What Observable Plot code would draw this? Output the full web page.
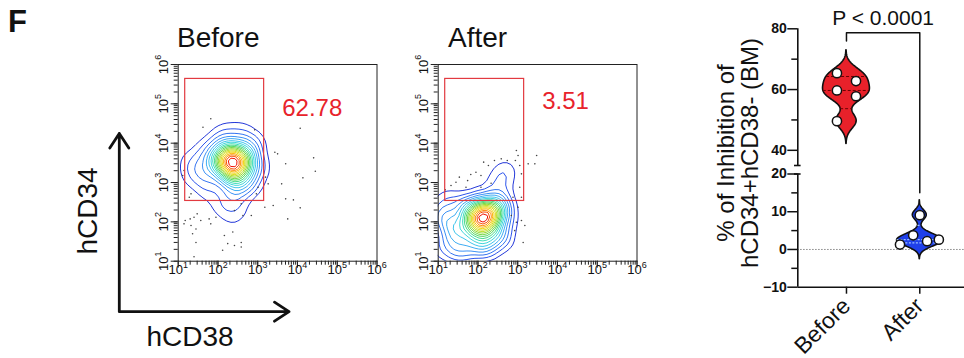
<!DOCTYPE html>
<html><head><meta charset="utf-8">
<script src="https://cdn.jsdelivr.net/npm/d3@7"></script>
<script src="https://cdn.jsdelivr.net/npm/@observablehq/plot@0.6"></script>
<style>
body{margin:0;background:#fff;}
#fig{position:relative;width:964px;height:358px;overflow:hidden;background:#fff;font-family:"Liberation Sans",Arial,Helvetica,sans-serif;}
.abs{position:absolute;}
</style></head><body><div id="fig"></div>
<script>
// ---------- flow cytometry panels ----------
const panelTitles = ["Before", "After"];
const flowTicks = [1e1, 1e2, 1e3, 1e4, 1e5, 1e6];
const flowTickBase = "10";
const flowTickExponents = ["1", "2", "3", "4", "5", "6"];
const gateX = [15, 1450];        // hCD38 bounds of the gate
const gateY = [340, 430000];     // hCD34 bounds of the gate
const gatePercent = ["62.78", "3.51"];
const gateLabelX = [4130, 4130];
const gateLabelY = [50000, 74800];

// contour "events": hCD38, hCD34, weight
const beforeEventX = [236,150,370,236,236,160,360,214,568,690,81,55,37,19,145,385,840,1020,200,230,98,385,21,55,120,300,500,60,260,700];
const beforeEventY = [3290,3290,3290,5200,2100,4400,2600,1500,925,6510,2990,6510,2020,3620,17300,19000,11700,2450,348,120,236,236,1370,627,9000,8000,4500,1000,700,2200];
const beforeEventW = [4,3,3,3,3,4,3.5,4,3,2,3,2,1.6,1.1,1.4,1.2,1,1.3,1.4,0.9,0.7,0.7,1,0.9,1.6,2,2,1.2,2,1.4];
const afterEventX = [131,85,200,131,131,73,236,55,25,14,17,37,145,385,467,385,119,316,515,14,90,200,300,420];
const afterEventY = [131,131,131,200,85,89,194,236,60,131,348,19,23,41,131,348,424,925,2220,23,40,60,250,1400];
const afterEventW = [4,3,3,3,3,4,4,3.5,4,3,1.4,3,3,2.5,2,1.4,1.1,1,0.8,1.5,3,3,2,0.8];

// outlying single events (dots)
const beforeDotX = [66,42,840,11700,2700,3160,5050,25500,28100,13700,1570,1830,4000,5050,7900,2450,1510,925,1020,11700,5680,424,690,260,385,30,25,20,15,14,37,66,21,28,23,28,145,176,260,236,385,385,131,25,14,13,19,21,60,89];
const beforeDotY = [41600,25500,21800,24000,5900,5360,2990,4240,1940,1315,1370,925,925,385,362,260,236,515,760,227,119,145,145,194,287,160,131,119,108,89,108,89,81,66,50,30,45,28,25,55,30,23,19,13,2020,1510,424,515,119,131];
const afterDotX = [15,28,34,55,66,89,119,139,183,260,385,546,925,1020,873,1125,1830,2700,2990,119,214,50,21,1240,1125,760,1240,1020,925,1240,1510,1370,690,840];
const afterDotY = [652,1020,1370,1120,1600,1830,1510,3290,2700,3620,4000,3620,6510,4860,3620,2700,2980,2980,4860,760,961,760,840,1660,760,424,424,236,98,108,81,30,145,60];

// ---------- violin panel ----------
const categories = ["Before", "After"];
const beforeValues = [65.4, 62.8, 59.7, 57.8, 49.6];
const beforeJitter = [-0.13, 0.13, -0.13, 0.13, -0.13];
const afterValues = [9.1, 3.75, 2.2, 2.6, 1.3];
const afterJitter = [0, -0.09, 0.10, 0.26, -0.27];
const beforeQuartiles = [53.7, 59.7, 64.3];
const afterQuartiles = [1.75, 2.6, 6.4];
const yMajorTicks = [80, 60, 40, 20, 10, 0, -10];
const yMinorTicks = [70, 50, 15, 5, -5];
const axisUpper = [35, 80];
const axisLower = [-10, 20];
const pValueText = "P < 0.0001";
const bracketY = [76, 78.7, 15]; // left end, top, right end
const yLabelLines = ["% of Inhibition of", "hCD34+hCD38- (BM)"];

const FONT = '"Liberation Sans", Arial, Helvetica, sans-serif';
const contourColors = ["#1a1ac4","#2a50ea","#3a8cf5","#40c0f2","#40e0d0","#48d870","#80d840","#c8e028","#f5d818","#ff8a10","#f01000"];
const fig = document.getElementById("fig");

// overlay: panel letter, titles, arrows
const ns = "http://www.w3.org/2000/svg";
const over = document.createElementNS(ns, "svg");
over.setAttribute("width", 964); over.setAttribute("height", 358);
over.setAttribute("class", "abs"); over.style.left = "0px"; over.style.top = "0px";
over.innerHTML = `
<g font-family='${FONT}' fill="#111">
<text x="8" y="31.5" font-size="31" font-weight="bold">F</text>
<text x="177" y="46.5" font-size="28">${panelTitles[0]}</text>
<text x="448" y="46.5" font-size="28">${panelTitles[1]}</text>
<text transform="translate(96.5,211) rotate(-90)" text-anchor="middle" font-size="28">hCD34</text>
<text x="190" y="346" text-anchor="middle" font-size="28">hCD38</text>
</g>
<path d="M119.3,311.7 V133.5 M109.8,148 L119.3,133.5 L128.8,148 M119.3,311.7 H289 M274.5,302.2 L289,311.7 L274.5,321.2"
 stroke="#111" stroke-width="2.8" fill="none" stroke-linecap="round" stroke-linejoin="round"/>`;
fig.appendChild(over);

function place(el, left, top) {
  const d = document.createElement("div");
  d.className = "abs"; d.style.left = left + "px"; d.style.top = top + "px";
  d.appendChild(el); fig.appendChild(d);
}

const expOf = d => flowTickExponents[flowTicks.indexOf(d)];

function flowPanel(evX, evY, evW, dX, dY, k) {
  const events = evX.map((x, i) => ({x, y: evY[i], w: evW[i]}));
  const dots = dX.map((x, i) => ({x, y: dY[i]}));
  return Plot.plot({
    width: 250, height: 240,
    marginLeft: 37.7, marginRight: 13.5, marginTop: 14, marginBottom: 29.3,
    x: {type: "log", domain: [10, 1e6], label: null, axis: null},
    y: {type: "log", domain: [10, 1e6], label: null, axis: null},
    color: {type: "linear", range: contourColors},
    style: {fontFamily: FONT, background: "transparent", overflow: "visible", color: "#111"},
    marks: [
      Plot.density(events, {x: "x", y: "y", weight: "w", bandwidth: 7, thresholds: 20, stroke: "density", strokeWidth: 1, clip: true}),
      Plot.dot(dots, {x: "x", y: "y", r: 0.8, fill: "#444", stroke: null}),
      Plot.rect([0], {x1: () => gateX[0], x2: () => gateX[1], y1: () => gateY[0], y2: () => gateY[1], fill: "none", stroke: "#e23a40", strokeWidth: 1.2}),
      Plot.text([gatePercent[k]], {x: () => gateLabelX[k], y: () => gateLabelY[k], text: d => d, fill: "#e8232b", fontSize: 24, textAnchor: "start", lineAnchor: "bottom"}),
      Plot.frame({stroke: "#222", strokeWidth: 1}),
      Plot.axisX({ticks: 50, tickFormat: () => "", tickSize: 4, stroke: "#222"}),
      Plot.axisY({ticks: 50, tickFormat: () => "", tickSize: 4, stroke: "#222"}),
      Plot.axisX({ticks: flowTicks, tickFormat: () => "", tickSize: 7, stroke: "#222"}),
      Plot.axisY({ticks: flowTicks, tickFormat: () => "", tickSize: 7, stroke: "#222"}),
      // x tick labels: 10 with superscript exponent
      Plot.text(flowTicks, {x: d => d, frameAnchor: "bottom", text: () => flowTickBase, dx: -2.5, dy: 12.5, fontSize: 13, fill: "#111"}),
      Plot.text(flowTicks, {x: d => d, frameAnchor: "bottom", text: expOf, dx: 4.8, dy: 7, fontSize: 9, textAnchor: "start", fill: "#111"}),
      // y tick labels, rotated
      Plot.text(flowTicks, {y: d => d, frameAnchor: "left", text: () => flowTickBase, rotate: -90, dx: -14.7, dy: 2.5, fontSize: 13, textAnchor: "middle", fill: "#111"}),
      Plot.text(flowTicks, {y: d => d, frameAnchor: "left", text: expOf, rotate: -90, dx: -19.7, dy: -4.8, fontSize: 9, textAnchor: "start", fill: "#111"})
    ]
  });
}

place(flowPanel(beforeEventX, beforeEventY, beforeEventW, beforeDotX, beforeDotY, 0), 140, 50);
place(flowPanel(afterEventX, afterEventY, afterEventW, afterDotX, afterDotY, 1), 400, 50);

// violin profiles from the point values (gaussian kernel)
function kde(values, h) { return v => d3.sum(values, x => Math.exp(-0.5 * ((v - x) / h) ** 2)); }
function violin(values, h, center, half) {
  const f = kde(values, h);
  const lo = d3.min(values) - 3 * h, hi = d3.max(values) + 3 * h;
  const vs = d3.range(161).map(i => lo + (hi - lo) * i / 160);
  const m = d3.max(vs, f);
  const w = v => half * f(v) / m;
  return {profile: vs.map(v => ({v, x1: center - w(v), x2: center + w(v)})), w};
}
const vb = violin(beforeValues, 2.5, 1, 0.32);
const va = violin(afterValues, 1.3, 2, 0.31);
const xmin = 0.336;
const bPts = beforeValues.map((v, i) => ({x: 1 + beforeJitter[i], y: v}));
const aPts = afterValues.map((v, i) => ({x: 2 + afterJitter[i], y: v}));
const bracket = [{x: 1, y: bracketY[0]}, {x: 1, y: bracketY[1]}, {x: 2, y: bracketY[1]}, {x: 2, y: bracketY[2]}];

const vplot = Plot.plot({
  width: 264, height: 358,
  marginLeft: 97.3, marginRight: 0, marginTop: 28.3, marginBottom: 71.3,
  x: {domain: [xmin, 2.61], label: null},
  y: {type: "linear", domain: [-10, 20, 35, 80], range: [286.7, 173.5, 165, 28.3], label: null},
  style: {fontFamily: FONT, background: "transparent", overflow: "visible", color: "#111"},
  marks: [
    Plot.ruleY([0], {stroke: "#666", strokeDasharray: "1.2,1.8", strokeWidth: 1}),
    Plot.areaX(vb.profile, {y: "v", x1: "x1", x2: "x2", fill: "#e8212a", stroke: "#111", strokeWidth: 1.6}),
    Plot.areaX(va.profile, {y: "v", x1: "x1", x2: "x2", fill: "#1f40ea", stroke: "#111", strokeWidth: 1.6}),
    Plot.ruleY(beforeQuartiles, {y: d => d, x1: d => 1 - vb.w(d), x2: d => 1 + vb.w(d), stroke: "#6a0000", strokeDasharray: "3,2", strokeWidth: 1}),
    Plot.ruleY(afterQuartiles, {y: d => d, x1: d => 2 - va.w(d), x2: d => 2 + va.w(d), stroke: "#9cc0ff", strokeDasharray: "2,1.5", strokeWidth: 1.2}),
    Plot.dot(bPts, {x: "x", y: "y", r: 4.6, fill: "white", stroke: "#111", strokeWidth: 1.5}),
    Plot.dot(aPts, {x: "x", y: "y", r: 4.6, fill: "white", stroke: "#111", strokeWidth: 1.5}),
    Plot.line(bracket, {x: "x", y: "y", stroke: "#111", strokeWidth: 1.5}),
    Plot.text([pValueText], {x: 1.5, y: () => bracketY[1], text: d => d, dy: -14, fontSize: 21, fill: "#111"}),
    Plot.ruleX([axisUpper, axisLower], {x: xmin, y1: d => d[0], y2: d => d[1], stroke: "#111", strokeWidth: 1.6}),
    Plot.ruleY([axisUpper[0], axisLower[1]], {y: d => d, x1: xmin - 0.045, x2: xmin + 0.045, stroke: "#111", strokeWidth: 1.6}),
    Plot.ruleY([-10], {stroke: "#111", strokeWidth: 1.6}),
    Plot.axisY({ticks: yMinorTicks, tickFormat: () => "", tickSize: 6, strokeWidth: 1.5}),
    Plot.axisY({ticks: yMajorTicks, tickSize: 10, tickPadding: 1, fontSize: 14, fontWeight: "bold", strokeWidth: 1.5}),
    Plot.axisX({ticks: [1, 2], tickFormat: d => categories[d - 1], tickSize: 7, tickPadding: 8, tickRotate: -45, fontSize: 23, strokeWidth: 1.5}),
    Plot.text([yLabelLines[0]], {frameAnchor: "left", text: d => d, rotate: -90, dx: -64.3, dy: -5, fontSize: 24, textAnchor: "middle", lineAnchor: "bottom", fill: "#111"}),
    Plot.text([yLabelLines[1]], {frameAnchor: "left", text: d => d, rotate: -90, dx: -40.3, dy: -5, fontSize: 24, textAnchor: "middle", lineAnchor: "bottom", fill: "#111"})
  ]
});
place(vplot, 700, 0);
</script></body></html>
